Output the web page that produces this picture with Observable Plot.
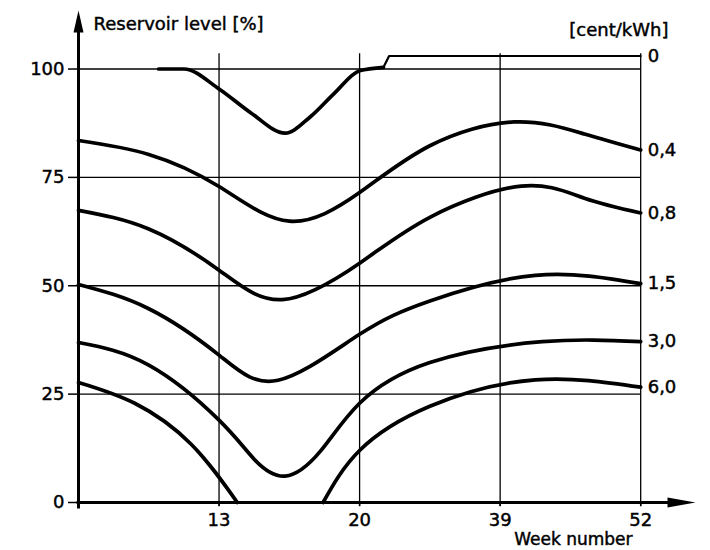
<!DOCTYPE html>
<html><head><meta charset="utf-8">
<script src="https://cdn.jsdelivr.net/npm/d3@7"></script>
<script src="https://cdn.jsdelivr.net/npm/@observablehq/plot@0.6"></script>
<style>body{margin:0;background:#fff} #chart svg text{stroke:#000;stroke-width:0.45px;}</style>
</head><body><div id="chart"></div>
<script>
// Tick labels (x positions are equally spaced on the printed axis)
const weekTicks = [13, 20, 39, 52];
const tickPos = [1, 2, 3, 4];
const yTicks = [0, 25, 50, 75, 100];
const gridY = [25, 50, 75, 100];
const priceLabels = ["0", "0,4", "0,8", "1,5", "3,0", "6,0"];

// Curves: [axis position, reservoir level %]
const c0 = [[0.57,100],[0.75,100],[1.0,95.4],[1.23,89.8],[1.47,85.2],[1.65,89],[1.82,94.4],[2.0,99.6],[2.17,100.4]];
const c0step = [[2.17,100.4],[2.21,103],[4.0,103]];
const c04 = [[0,83.5],[0.5,80.3],[1.0,72.9],[1.5,64.9],[2.0,71.5],[2.5,82.3],[3.1,87.8],[3.6,85],[4.0,81.3]];
const c08 = [[0,67.4],[0.5,63.1],[1.0,53.6],[1.45,46.8],[2.0,55.2],[2.5,65.8],[3.15,73],[3.6,70.2],[4,66.8]];
const c15 = [[0,50.3],[0.5,44.7],[1.0,34],[1.42,28.2],[2.0,38.8],[2.5,46.5],[3.25,52.4],[4,50.5]];
const c30 = [[0,36.9],[0.5,31.7],[1.0,19],[1.25,10],[1.47,6.1],[1.72,11.8],[2.0,22.9],[2.5,32.3],[3.3,37.1],[4,37.1]];
const c60a = [[0,27.7],[0.4,22.9],[0.8,13.5],[1.13,0]];
const c60b = [[1.74,0],[2.0,12],[2.5,22.2],[3.25,28.3],[4,26.6]];

const smooth = [[c04,1],[c08,2],[c15,3],[c30,4],[c60a,5],[c60b,5]];
function toRows(list, offset) {
  const out = [];
  list.forEach(([pts, s], k) => pts.forEach(([x, y]) => out.push({seg: offset + k, series: s, x, y})));
  return out;
}
const smoothRows = toRows(smooth, 0);
const dipRows = toRows([[c0,0]], 50);
const stepRows = toRows([[c0step,0]], 100);
const allSegs = smooth.concat([[c0,0],[c0step,0]]);
const ends = priceLabels.map((label, s) => {
  let best = null;
  allSegs.filter(d => d[1] === s).forEach(([pts]) => pts.forEach(p => { if (!best || p[0] >= best[0]) best = p; }));
  return {label, x: best[0], y: best[1]};
});

const xMax = 4.39, yMax = 113.5;
const arrowUp = {draw(ctx){ ctx.moveTo(0,0); ctx.lineTo(-5,22); ctx.lineTo(5,22); ctx.closePath(); }};
const arrowRight = {draw(ctx){ ctx.moveTo(0,0); ctx.lineTo(-28,-5); ctx.lineTo(-28,5); ctx.closePath(); }};
const lineStyle = {x: "x", y: "y", z: "seg", stroke: "black", strokeWidth: 3.7, strokeLinecap: "round", strokeLinejoin: "round"};

const chart = Plot.plot({
  width: 710, height: 550,
  marginLeft: 78, marginRight: 15, marginTop: 10, marginBottom: 48,
  style: {fontFamily: "DejaVu Sans", fontSize: "18px", background: "white", color: "black"},
  x: {domain: [0, xMax]},
  y: {domain: [0, yMax]},
  marks: [
    Plot.ruleY(gridY, {x1: 0, x2: 4, stroke: "black", strokeWidth: 1.3}),
    Plot.ruleX(tickPos, {y1: -1, y2: 103.5, stroke: "black", strokeWidth: 1.3}),
    Plot.axisY({ticks: yTicks, tickSize: 10, tickPadding: 4, label: null, fontSize: 18, strokeWidth: 1.5}),
    Plot.axisX({ticks: tickPos, tickFormat: d => String(weekTicks[tickPos.indexOf(d)]), tickSize: 4, tickPadding: 7, label: null, fontSize: 18, strokeWidth: 1.5}),
    Plot.ruleX([0], {y1: -1.5, y2: yMax - 3, stroke: "black", strokeWidth: 3}),
    Plot.ruleY([0], {x1: -0.01, x2: xMax - 0.1, stroke: "black", strokeWidth: 3}),
    Plot.dot([{x: 0, y: yMax}], {x: "x", y: "y", symbol: arrowUp, fill: "black", r: 5}),
    Plot.dot([{x: xMax, y: 0}], {x: "x", y: "y", symbol: arrowRight, fill: "black", r: 5}),
    Plot.line(smoothRows, {...lineStyle, curve: "natural"}),
    Plot.line(dipRows, {...lineStyle, curve: "monotone-x"}),
    Plot.line(stepRows, {...lineStyle, curve: "linear", strokeWidth: 2.2}),
    Plot.text(ends, {x: "x", y: "y", text: "label", dx: 7, textAnchor: "start", fontSize: 18, fill: "black"}),
    Plot.text(["Reservoir level [%]"], {frameAnchor: "top-left", dx: 15, dy: 7, lineAnchor: "top", textAnchor: "start", fontSize: 18, fill: "black"}),
    Plot.text(["[cent/kWh]"], {frameAnchor: "top-right", dx: -27, dy: 13, lineAnchor: "top", textAnchor: "end", fontSize: 18, fill: "black"}),
    Plot.text(["Week number"], {frameAnchor: "bottom-right", dx: -63, dy: 30, lineAnchor: "top", textAnchor: "end", fontSize: 17, fill: "black"})
  ]
});
document.getElementById("chart").appendChild(chart);
</script></body></html>
